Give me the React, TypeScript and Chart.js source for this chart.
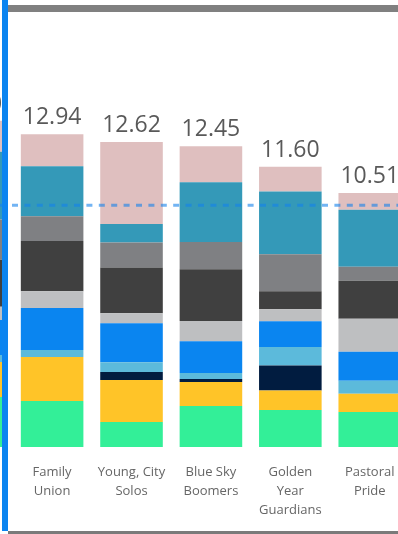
import React, { useEffect, useRef } from "react";
import { Chart, registerables } from "chart.js";

Chart.register(...registerables);

// Segment names (x axis), wrapped into lines the way they are shown under the columns
const categories = ["", "Family Union", "Young, City Solos", "Blue Sky Boomers", "Golden Year Guardians", "Pastoral Pride"];
const tickLabels = [
  [""],
  ["Family", "Union"],
  ["Young, City", "Solos"],
  ["Blue Sky", "Boomers"],
  ["Golden", "Year", "Guardians"],
  ["Pastoral", "Pride"],
];

// Stacked components, bottom to top
const greenValues = [2.07, 1.9, 1.03, 1.7, 1.53, 1.45];
const yellowValues = [1.45, 1.82, 1.74, 0.99, 0.81, 0.75];
const navyValues = [0, 0, 0.33, 0.12, 1.03, 0];
const skyValues = [0.29, 0.29, 0.41, 0.25, 0.77, 0.54];
const blueValues = [1.45, 1.74, 1.61, 1.32, 1.06, 1.2];
const silverValues = [0.54, 0.7, 0.41, 0.83, 0.5, 1.37];
const charcoalValues = [1.95, 2.07, 1.9, 2.15, 0.75, 1.57];
const grayValues = [1.66, 1.03, 1.03, 1.12, 1.53, 0.58];
const tealValues = [2.81, 2.07, 0.77, 2.48, 2.59, 2.36];
const roseValues = [1.28, 1.32, 3.39, 1.49, 1.03, 0.69];

// Dashed reference line level
const referenceLevel = 10.0;

const series = [
  { name: "Green", values: greenValues, color: "#33EF98" },
  { name: "Yellow", values: yellowValues, color: "#FFC428" },
  { name: "Navy", values: navyValues, color: "#011C40" },
  { name: "Sky", values: skyValues, color: "#5CBADB" },
  { name: "Blue", values: blueValues, color: "#0A85F0" },
  { name: "Silver", values: silverValues, color: "#BEBFC1" },
  { name: "Charcoal", values: charcoalValues, color: "#404040" },
  { name: "Gray", values: grayValues, color: "#7F8083" },
  { name: "Teal", values: tealValues, color: "#3499B8" },
  { name: "Rose", values: roseValues, color: "#DFBFBF" },
];

const totalsPlugin = {
  id: "totalsAndReference",
  afterDatasetsDraw(chart: any) {
    const { ctx, chartArea } = chart;
    const xs = chart.scales.x;
    const ys = chart.scales.y;
    ctx.save();

    // dashed reference line across the plot
    const yRef = ys.getPixelForValue(referenceLevel);
    ctx.beginPath();
    ctx.setLineDash([6, 6.4]);
    ctx.lineDashOffset = 7.8;
    ctx.lineWidth = 3;
    ctx.strokeStyle = "rgba(20,130,235,0.6)";
    ctx.moveTo(chartArea.left, yRef);
    ctx.lineTo(chartArea.right, yRef);
    ctx.stroke();
    ctx.setLineDash([]);

    // column totals
    ctx.font = '23px "Open Sans"';
    ctx.fillStyle = "#595959";
    ctx.textAlign = "center";
    ctx.textBaseline = "alphabetic";
    categories.forEach((_, i) => {
      const total = series.reduce((sum, s) => sum + s.values[i], 0);
      ctx.fillText(total.toFixed(2), xs.getPixelForValue(i), ys.getPixelForValue(total) - 10);
    });
    ctx.restore();
  },
};

export default function App() {
  const canvasRef = useRef<HTMLCanvasElement | null>(null);

  useEffect(() => {
    if (!canvasRef.current) return;
    const chart = new Chart(canvasRef.current, {
      type: "bar",
      data: {
        labels: tickLabels as any,
        datasets: series.map((s) => ({
          label: s.name,
          data: s.values,
          backgroundColor: s.color,
          borderWidth: 0,
          barPercentage: 0.788,
          categoryPercentage: 1,
          stack: "total",
        })),
      },
      options: {
        responsive: false,
        animation: false,
        events: [],
        layout: { padding: { top: 12, left: 0, right: 0, bottom: 0 } },
        plugins: {
          legend: { display: false },
          tooltip: { enabled: false },
        },
        scales: {
          x: {
            stacked: true,
            grid: { display: false, drawTicks: false },
            border: { display: false },
            ticks: {
              color: "#666666",
              font: { family: '"Open Sans"', size: 13, lineHeight: "19px" },
              padding: 15.5,
              maxRotation: 0,
              autoSkip: false,
            },
            afterFit: (scale: any) => {
              scale.height = 87;
            },
          },
          y: {
            stacked: true,
            display: false,
            min: 0,
            max: 18,
          },
        },
      },
      plugins: [totalsPlugin],
    });
    return () => chart.destroy();
  }, []);

  return (
    <div
      style={{
        position: "fixed",
        left: 0,
        top: 0,
        width: 398,
        height: 534,
        overflow: "hidden",
        background: "#ffffff",
      }}
    >
      <canvas
        ref={canvasRef}
        width={477}
        height={534}
        style={{ position: "absolute", left: -67, top: 0, width: 477, height: 534 }}
      />
      <div style={{ position: "absolute", left: 2, top: 0, width: 6, height: 531, background: "#0B84F0" }} />
      <div style={{ position: "absolute", left: 8, top: 5, width: 390, height: 7, background: "#808080" }} />
      <div style={{ position: "absolute", left: 8, top: 531, width: 390, height: 3, background: "#7A7A7A" }} />
    </div>
  );
}
